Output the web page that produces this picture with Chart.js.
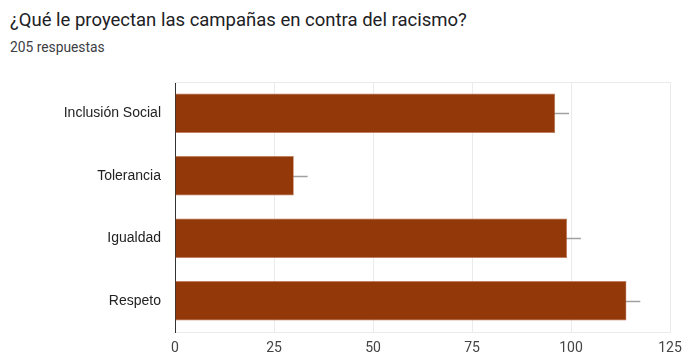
<!DOCTYPE html>
<html>
<head>
<meta charset="utf-8">
<script src="https://cdn.jsdelivr.net/npm/chart.js@4"></script>
<style>
  html, body { margin: 0; padding: 0; background: #fff; }
  #wrap { position: relative; width: 684px; height: 352px; overflow: hidden; font-family: Roboto, Arial, sans-serif; }
  #title { position: absolute; left: 10px; top: 9px; font-size: 18.5px; color: #202124; white-space: nowrap; }
  #sub { position: absolute; left: 10px; top: 39px; font-size: 13.8px; color: #3c4043; }
  canvas { position: absolute; left: 0; top: 0; }
</style>
</head>
<body>
<div id="wrap">
  <div id="title">¿Qué le proyectan las campañas en contra del racismo?</div>
  <div id="sub">205 respuestas</div>
  <canvas id="chart" width="684" height="352"></canvas>
</div>
<script>
const categories = ["Inclusión Social", "Tolerancia", "Igualdad", "Respeto"];
const counts = [96, 30, 99, 114];
const errors = [3.5, 3.5, 3.5, 3.5];
const xTicks = [0, 25, 50, 75, 100, 125];

// thin grey whiskers behind each bar + light frame on top
const whiskers = {
  id: "whiskers",
  beforeDatasetsDraw(chart) {
    const { ctx, chartArea } = chart;
    const x = chart.scales.x;
    const meta = chart.getDatasetMeta(0);
    ctx.save();
    ctx.strokeStyle = "#a0a0a0";
    ctx.lineWidth = 1.5;
    meta.data.forEach((bar, i) => {
      const y = Math.round(bar.y) + 0.5;
      ctx.beginPath();
      ctx.moveTo(x.getPixelForValue(counts[i] - errors[i]), y);
      ctx.lineTo(x.getPixelForValue(counts[i] + errors[i]), y);
      ctx.stroke();
    });
    ctx.strokeStyle = "#ebebeb";
    ctx.lineWidth = 1;
    ctx.beginPath();
    ctx.moveTo(chartArea.left, chartArea.top + 0.5);
    ctx.lineTo(chartArea.right, chartArea.top + 0.5);
    ctx.stroke();
    ctx.restore();
  },
};

new Chart(document.getElementById("chart"), {
  type: "bar",
  data: {
    labels: categories,
    datasets: [{
      data: counts,
      backgroundColor: "#933809",
      borderColor: "#c07a5a",
      borderWidth: 0.6,
      categoryPercentage: 0.63,
      barPercentage: 1,
    }],
  },
  options: {
    indexAxis: "y",
    responsive: false,
    animation: false,
    layout: { padding: { top: 82, right: 14, left: 0, bottom: 0 } },
    plugins: { legend: { display: false }, tooltip: { enabled: false } },
    scales: {
      x: {
        min: 0,
        max: 125,
        afterBuildTicks: (s) => { s.ticks = xTicks.map((v) => ({ value: v })); },
        afterFit: (s) => { s.height = 20; s.paddingLeft = 0; s.paddingRight = 0; },
        grid: { color: "#ebebeb", drawTicks: false },
        border: { color: "#ebebeb" },
        ticks: { padding: 8, color: "#444", font: { family: "Roboto, Arial", size: 14 } },
      },
      y: {
        afterFit: (s) => { s.width = 175; s.paddingTop = 0; s.paddingBottom = 0; },
        grid: { display: false, drawTicks: false },
        border: { color: "#333", width: 1 },
        ticks: { padding: 14, color: "#222", font: { family: "Arial, Liberation Sans", size: 14 } },
      },
    },
  },
  plugins: [whiskers],
});
</script>
</body>
</html>
